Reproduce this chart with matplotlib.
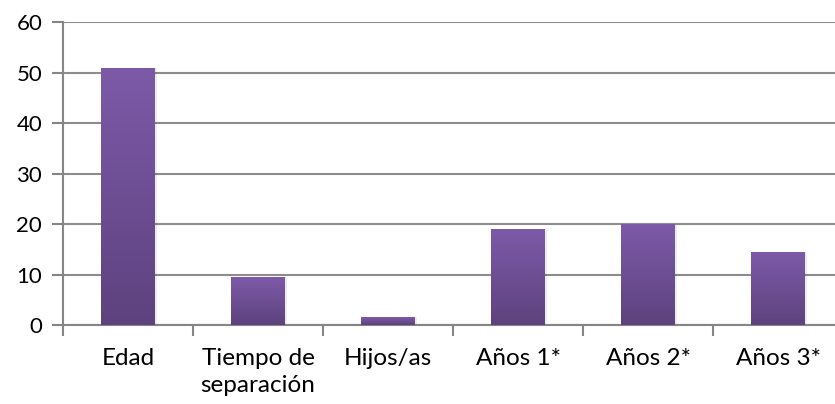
import matplotlib
matplotlib.use("Agg")
import matplotlib.pyplot as plt
import numpy as np
from matplotlib.colors import LinearSegmentedColormap

categories = ["Edad", "Tiempo de\nseparación", "Hijos/as", "Años 1*", "Años 2*", "Años 3*"]
values = [50.8, 9.5, 1.5, 18.9, 19.9, 14.4]
yticks = [0, 10, 20, 30, 40, 50, 60]

plt.rcParams['font.family'] = ['Lato', 'DejaVu Sans']

fig = plt.figure(figsize=(8.35, 4.04), dpi=100)
ax = fig.add_axes([0.0754, 0.1955, 0.9246, 0.75])

x = np.arange(len(categories))
bars = ax.bar(x, values, width=0.415, color='none', zorder=3)

cmap = LinearSegmentedColormap.from_list("pg", ["#5D427E", "#7D5AA8"])
grad = np.linspace(0, 1, 256).reshape(-1, 1)
for b in bars:
    x0, y0 = b.get_x(), b.get_y()
    w, h = b.get_width(), b.get_height()
    # soft shadow
    ax.bar(x0 + w / 2 + 0.012, h, width=w, bottom=0, color='#000000', alpha=0.07, zorder=2)
    ax.imshow(grad, cmap=cmap, extent=[x0, x0 + w, y0, y0 + h], origin='lower',
              aspect='auto', zorder=3, interpolation='bicubic')

ax.set_xlim(-0.5, 5.438)
ax.set_ylim(0, 60)
ax.set_yticks(yticks)
ax.set_yticklabels([str(t) for t in yticks], fontsize=16)
ax.set_xticks(x)
ax.set_xticklabels(categories, fontsize=17.5, linespacing=1.38)
ax.set_xticks(np.arange(len(categories)) - 0.5, minor=True)
ax.tick_params(axis='x', which='major', length=0, pad=16.5)
ax.tick_params(axis='x', which='minor', length=8, color='#868686', width=1.5)
ax.tick_params(axis='y', length=8, color='#868686', width=1.5, pad=7)

ax.yaxis.grid(True, color='#8c8c8c', linewidth=1.5, zorder=0)
ax.set_axisbelow(True)
for s in ['top', 'right']:
    ax.spines[s].set_visible(False)
for s in ['left', 'bottom']:
    ax.spines[s].set_color('#868686')
    ax.spines[s].set_linewidth(1.5)

fig.savefig("out.png", dpi=100)
